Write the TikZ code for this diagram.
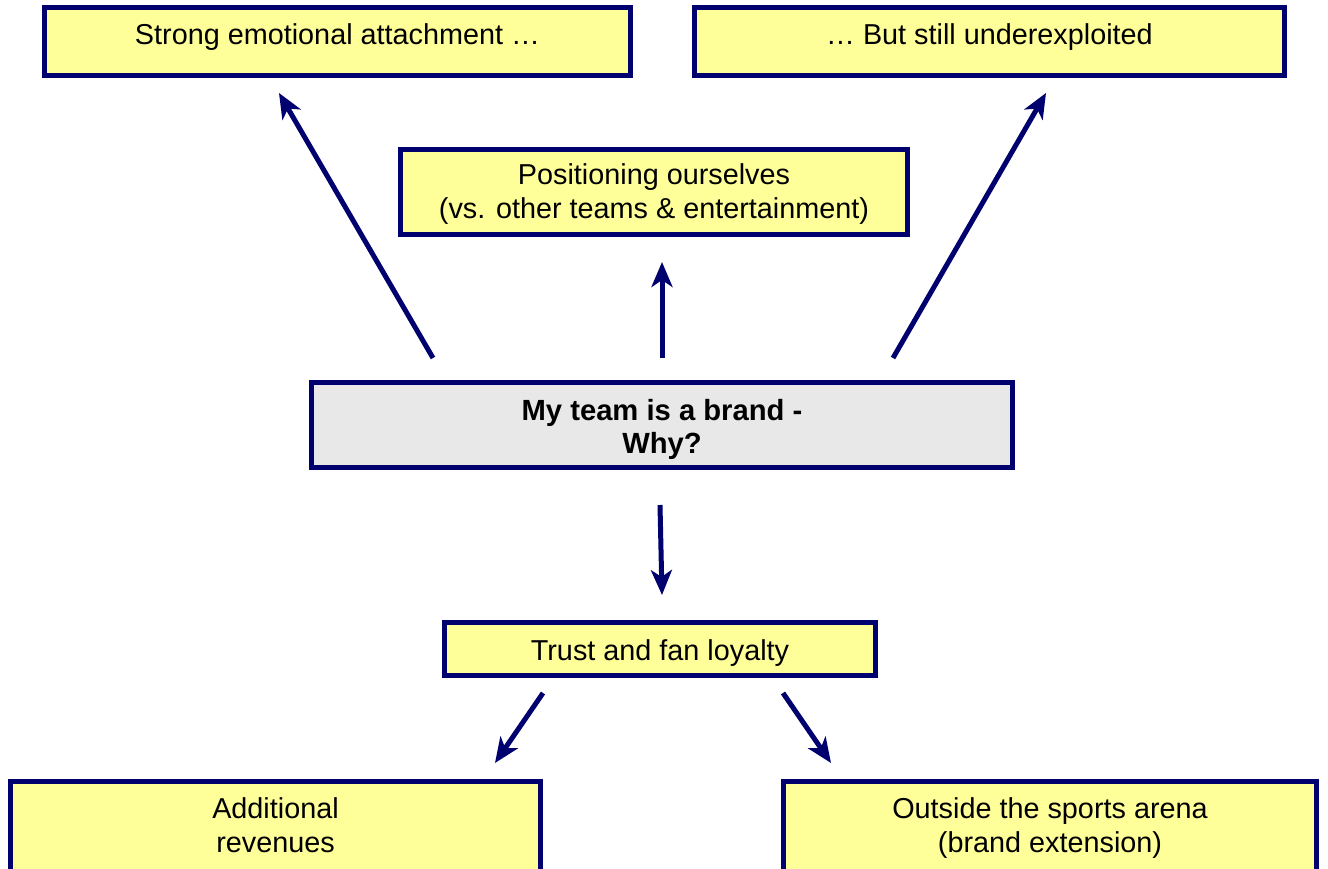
\documentclass[tikz,border=0pt]{standalone}
\usepackage{fontspec}
\setmainfont{Liberation Sans}
\usetikzlibrary{arrows.meta}
\definecolor{navy}{RGB}{0,0,110}
\definecolor{boxyellow}{RGB}{255,255,153}
\definecolor{boxgray}{RGB}{232,232,232}
\begin{document}
\begin{tikzpicture}[x=1pt,y=-1pt,
  box/.style={draw=navy, line width=5pt, fill=boxyellow, inner sep=0pt,
    align=center, font=\fontsize{28.8}{34}\selectfont},
  topbox/.style={box, text height=21pt, text depth=15pt},
  arr/.style={draw=navy, line width=5pt,
    -{Stealth[length=25pt,width=21pt,inset=7pt]}}]
\path[use as bounding box, clip] (0,0) rectangle (1328,869);

\node[topbox, minimum width=586pt, minimum height=68pt] (emo) at (337.5,41.5) {Strong emotional attachment …};
\node[topbox, minimum width=590pt, minimum height=68pt] (under) at (989.5,41.5) {… But still underexploited};
\node[box, minimum width=507pt, minimum height=85pt, text height=55pt, text depth=1pt] (pos) at (654,192) {Positioning ourselves\\(vs. other teams \& entertainment)};
\node[box, fill=boxgray, minimum width=701pt, minimum height=85pt, font=\fontsize{29.2}{33}\selectfont\bfseries, text height=56pt, text depth=0pt] (brand) at (662,425) {My team is a brand -\\Why?};
\node[box, minimum width=431pt, minimum height=53pt, text height=22pt, text depth=0pt] (trust) at (660,649) {Trust and fan loyalty};
\node[box, minimum width=530pt, minimum height=92pt, text height=55pt, text depth=5pt] (rev) at (275.5,827.5) {Additional\\revenues};
\node[box, minimum width=533pt, minimum height=92pt, text height=55pt, text depth=5pt] (ext) at (1050,827.5) {Outside the sports arena\\(brand extension)};

\coordinate (a1s) at (433,358);
\coordinate (a1e) at (279,93);
\coordinate (a2s) at (662,358);
\coordinate (a2e) at (662,262);
\coordinate (a3s) at (893,358);
\coordinate (a3e) at (1046,93);
\coordinate (a4s) at (660,505);
\coordinate (a4e) at (662,595);
\coordinate (a5s) at (543,693);
\coordinate (a5e) at (495,763);
\coordinate (a6s) at (783,693);
\coordinate (a6e) at (831,763);

\draw[arr] (a1s) -- (a1e);
\draw[arr] (a2s) -- (a2e);
\draw[arr] (a3s) -- (a3e);
\draw[arr] (a4s) -- (a4e);
\draw[arr] (a5s) -- (a5e);
\draw[arr] (a6s) -- (a6e);
\end{tikzpicture}
\end{document}
